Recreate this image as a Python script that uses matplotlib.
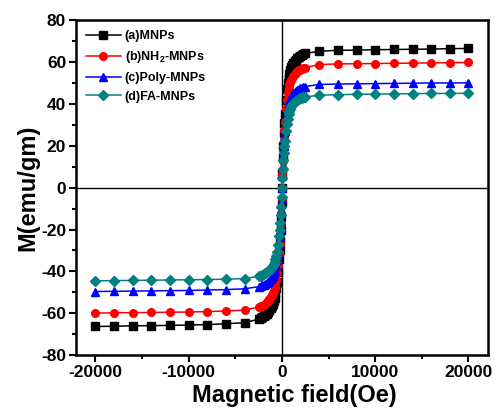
import matplotlib
matplotlib.use("Agg")
import matplotlib.pyplot as plt
from matplotlib.ticker import MultipleLocator

plt.rcParams["font.family"] = ["Liberation Sans", "DejaVu Sans"]
plt.rcParams["mathtext.fontset"] = "custom"
plt.rcParams["mathtext.rm"] = "Liberation Sans:bold"
plt.rcParams["mathtext.default"] = "rm"
plt.rcParams["axes.unicode_minus"] = False

# ── 数据 ─────────────────────────────────────────
FIELD = [-20000, -18000, -16000, -14000, -12000, -10000, -8000, -6000, -4000,
         -2500, -2300, -2100, -1950, -1800, -1650, -1500, -1350, -1200, -1100, -1000, -900,
         -800, -700, -600, -500, -400, -300, -250, -200, -150, -100, -50,
         0,
         50, 100, 150, 200, 250, 300, 400, 500, 600, 700, 800, 900, 1000, 1100,
         1200, 1350, 1500, 1650, 1800, 1950, 2100, 2300, 2500,
         4000, 6000, 8000, 10000, 12000, 14000, 16000, 18000, 20000]

M_MNP = [-66.3, -66.2, -66.0, -65.9, -65.8, -65.6, -65.4, -65.0, -64.5,
         -62.8, -62.4, -62.0, -61.5, -61.0, -60.3, -59.5, -58.6, -57.5, -56.6, -55.5, -54.2,
         -52.5, -50.5, -48.0, -45.0, -40.5, -34.0, -30.0, -25.5, -20.0, -14.0, -7.0,
         0.0,
         7.0, 14.0, 20.0, 26.0, 31.0, 35.0, 42.0, 47.0, 50.0, 52.5, 54.5, 56.2, 57.5, 58.6,
         59.5, 60.5, 61.2, 61.9, 62.5, 62.9, 63.3, 63.7, 64.1,
         65.2, 65.6, 65.7, 65.9, 66.0, 66.1, 66.2, 66.4, 66.5]

M_NH2 = [-59.9, -59.8, -59.7, -59.6, -59.5, -59.4, -59.2, -58.9, -58.5,
         -57.0, -56.7, -56.3, -55.9, -55.4, -54.8, -54.0, -53.2, -52.2, -51.4, -50.5, -49.4,
         -48.0, -46.2, -44.0, -41.0, -37.0, -31.0, -27.0, -22.5, -17.5, -12.0, -6.0,
         0.0,
         6.3, 12.5, 18.0, 23.0, 27.5, 31.5, 37.5, 42.0, 45.0, 47.2, 49.0, 50.4, 51.5, 52.5,
         53.3, 54.2, 55.0, 55.5, 56.0, 56.4, 56.8, 57.1, 57.4,
         58.8, 59.1, 59.2, 59.3, 59.4, 59.5, 59.6, 59.7, 59.8]

M_POLY = [-49.6, -49.5, -49.4, -49.3, -49.2, -49.1, -48.9, -48.7, -48.3,
          -47.3, -47.0, -46.7, -46.4, -46.0, -45.5, -45.0, -44.4, -43.6, -42.9, -42.0, -41.1,
          -40.0, -38.7, -37.0, -34.5, -31.5, -27.0, -23.7, -20.0, -15.7, -11.0, -5.5,
          0.0,
          5.5, 11.0, 15.7, 20.0, 23.7, 27.0, 32.0, 35.5, 38.0, 40.0, 41.5, 42.6, 43.5, 44.3,
          45.0, 45.8, 46.4, 46.8, 47.2, 47.5, 47.8, 48.1, 48.3,
          49.3, 49.5, 49.6, 49.7, 49.8, 49.9, 50.0, 50.0, 50.1]

M_FA = [-44.5, -44.4, -44.3, -44.2, -44.1, -44.0, -43.9, -43.7, -43.4,
        -42.3, -42.0, -41.7, -41.4, -41.0, -40.5, -40.0, -39.4, -38.7, -38.1, -37.3, -36.5,
        -35.5, -34.2, -32.5, -30.5, -27.5, -23.0, -20.3, -17.0, -13.0, -9.0, -4.5,
        0.0,
        4.5, 9.0, 13.0, 16.5, 19.7, 22.5, 27.0, 30.5, 33.0, 35.0, 36.5, 37.8, 38.8, 39.6,
        40.3, 41.0, 41.6, 42.0, 42.4, 42.7, 42.9, 43.1, 43.3,
        44.2, 44.4, 44.6, 44.7, 44.8, 44.9, 45.0, 45.0, 45.1]

LABELS = ["(a)MNPs", "(b)NH$_2$-MNPs", "(c)Poly-MNPs", "(d)FA-MNPs"]
COLORS = ["black", "red", "blue", "#008080"]
MARKERS = ["s", "o", "^", "D"]


def main() -> None:
    fig = plt.figure(figsize=(4.96, 4.12), dpi=100)
    ax = fig.add_axes([0.153, 0.138, 0.831, 0.813])

    for m, label, color, mk in zip([M_MNP, M_NH2, M_POLY, M_FA], LABELS, COLORS, MARKERS):
        ax.plot(FIELD, m, color=color, marker=mk, markersize=5.5 if mk != "D" else 5,
                linewidth=1.1, label=label)

    ax.axhline(0, color="black", linewidth=1.0, zorder=0)
    ax.axvline(0, color="black", linewidth=1.0, zorder=0)

    ax.set_xlim(-22100, 22100)
    ax.set_ylim(-80, 80)
    ax.xaxis.set_major_locator(MultipleLocator(10000))
    ax.xaxis.set_minor_locator(MultipleLocator(5000))
    ax.yaxis.set_major_locator(MultipleLocator(20))
    ax.yaxis.set_minor_locator(MultipleLocator(10))
    ax.tick_params(which="both", direction="out", width=1.5, top=False, right=False)
    ax.tick_params(which="major", length=5, labelsize=12.5, pad=2)
    ax.tick_params(which="minor", length=3)
    for lbl in ax.get_xticklabels() + ax.get_yticklabels():
        lbl.set_fontweight("bold")
    for sp in ax.spines.values():
        sp.set_linewidth(1.8)

    ax.set_xlabel("Magnetic field(Oe)", fontsize=17, fontweight="bold", labelpad=4)
    ax.xaxis.set_label_coords(0.53, -0.085)
    ax.xaxis.label.set_va("top")
    ax.set_ylabel("M(emu/gm)", fontsize=17, fontweight="bold", labelpad=1)

    leg = ax.legend(loc="upper left", frameon=False, fontsize=9, handlelength=2.8,
                    borderaxespad=0.4, labelspacing=0.55, handletextpad=0.3)
    for t in leg.get_texts():
        t.set_fontweight("bold")

    fig.savefig("out.png", dpi=100)


if __name__ == "__main__":
    main()
